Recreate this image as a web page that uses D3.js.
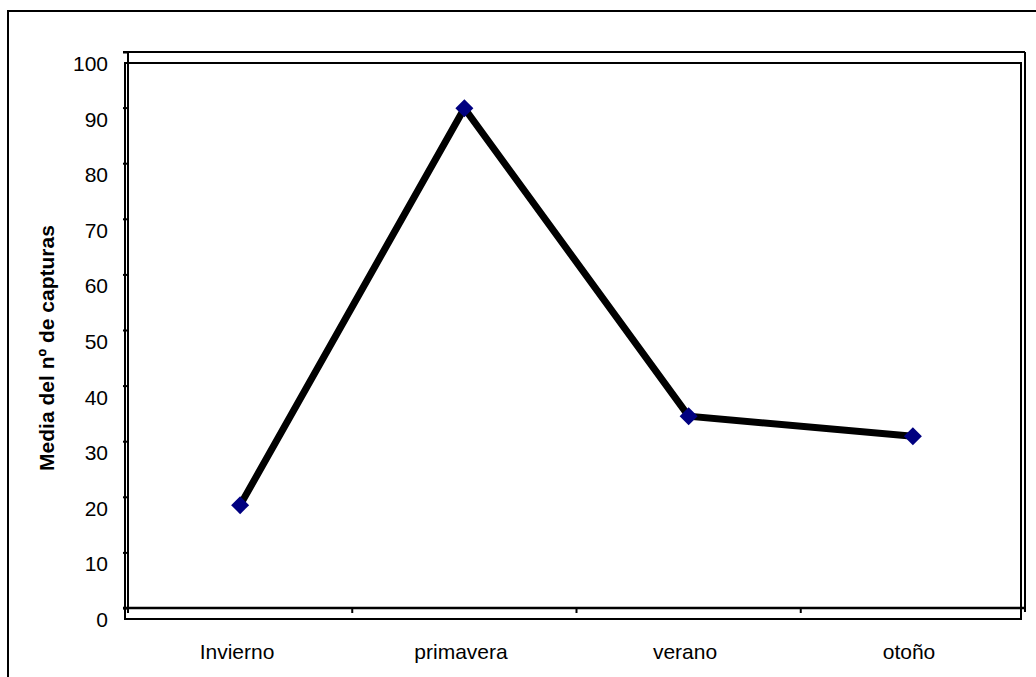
<!DOCTYPE html>
<html>
<head>
<meta charset="utf-8">
<script src="https://cdn.jsdelivr.net/npm/d3@7"></script>
<style>
  html, body { margin: 0; padding: 0; background: #fff; }
  svg { display: block; font-family: Arial, "Liberation Sans", sans-serif; }
</style>
</head>
<body>
<svg id="chart" width="1036" height="677"></svg>
<script>
// Seasonal mean number of captures
const seasons = ["Invierno", "primavera", "verano", "otoño"];
const meanCaptures = [18.5, 89.9, 34.5, 30.9];
const yTicks = [0, 10, 20, 30, 40, 50, 60, 70, 80, 90, 100];
const yTitle = "Media del nº de capturas";

const svg = d3.select("#chart");
const W = 1036, H = 677;

// Axis frame and the slightly shifted plot-area frame
const axisBox = { left: 128, right: 1025, top: 52, bottom: 608 };
const plotBox = { left: 125, right: 1021, top: 63, bottom: 619 };
const labelShift = { x: plotBox.left - axisBox.left, y: plotBox.top - axisBox.top };

const x = d3.scaleBand().domain(seasons).range([axisBox.left, axisBox.right]).padding(0);
const xLabel = d3.scaleBand().domain(seasons).range([plotBox.left, plotBox.right]).padding(0);
const y = d3.scaleLinear().domain([0, 100]).range([axisBox.bottom, axisBox.top]);

// Outer chart border
svg.append("rect")
  .attr("x", 8).attr("y", 11)
  .attr("width", W + 20).attr("height", H + 20)
  .attr("fill", "none").attr("stroke", "#000").attr("stroke-width", 2);

// Plot-area frame
svg.append("rect")
  .attr("x", plotBox.left).attr("y", plotBox.top)
  .attr("width", plotBox.right - plotBox.left)
  .attr("height", plotBox.bottom - plotBox.top)
  .attr("fill", "none").attr("stroke", "#000").attr("stroke-width", 2);

// Value axis (ticks outward to the left)
const yAxis = svg.append("g")
  .attr("transform", `translate(${axisBox.left},0)`)
  .call(d3.axisLeft(y).tickValues(yTicks).tickSize(5).tickSizeOuter(0).tickFormat(d3.format("d")));
yAxis.select(".domain").remove();
yAxis.selectAll(".tick line").attr("stroke", "#000").attr("stroke-width", 2);
yAxis.selectAll(".tick text")
  .attr("x", -20)
  .attr("dy", null)
  .attr("y", labelShift.y)
  .attr("dominant-baseline", "central")
  .attr("fill", "#000")
  .style("font-size", "21px");

// Axis lines
svg.append("line")
  .attr("x1", axisBox.left).attr("x2", axisBox.left)
  .attr("y1", axisBox.top).attr("y2", axisBox.bottom + 5)
  .attr("stroke", "#000").attr("stroke-width", 2);
svg.append("line")
  .attr("x1", axisBox.left - 5).attr("x2", axisBox.right)
  .attr("y1", axisBox.bottom).attr("y2", axisBox.bottom)
  .attr("stroke", "#000").attr("stroke-width", 2.5);
svg.append("line")
  .attr("x1", axisBox.left - 5).attr("x2", axisBox.right)
  .attr("y1", axisBox.top).attr("y2", axisBox.top)
  .attr("stroke", "#000").attr("stroke-width", 2);
svg.append("line")
  .attr("x1", axisBox.right).attr("x2", axisBox.right)
  .attr("y1", axisBox.top).attr("y2", axisBox.bottom + 4)
  .attr("stroke", "#000").attr("stroke-width", 2);

// Category ticks between seasons
svg.append("g").selectAll("line")
  .data(seasons.slice(1))
  .join("line")
  .attr("x1", d => x(d)).attr("x2", d => x(d))
  .attr("y1", axisBox.bottom).attr("y2", axisBox.bottom + 5)
  .attr("stroke", "#000").attr("stroke-width", 2);

// Category labels
svg.append("g").selectAll("text")
  .data(seasons)
  .join("text")
  .attr("x", d => xLabel(d) + xLabel.bandwidth() / 2)
  .attr("y", 659)
  .attr("text-anchor", "middle")
  .style("font-size", "21px")
  .attr("fill", "#000")
  .text(d => d);

// Y axis title
svg.append("text")
  .attr("transform", `translate(54,${(plotBox.top + plotBox.bottom) / 2 + 7}) rotate(-90)`)
  .attr("text-anchor", "middle")
  .style("font-size", "21px")
  .style("font-weight", "bold")
  .attr("fill", "#000")
  .text(yTitle);

// Series line
const pts = seasons.map((s, i) => ({ s, v: meanCaptures[i] }));
svg.append("path")
  .datum(pts)
  .attr("fill", "none")
  .attr("stroke", "#000")
  .attr("stroke-width", 7)
  .attr("stroke-linejoin", "miter")
  .attr("d", d3.line().x(d => x(d.s) + x.bandwidth() / 2).y(d => y(d.v)));

// Diamond markers
svg.append("g").selectAll("path")
  .data(pts)
  .join("path")
  .attr("transform", d => `translate(${x(d.s) + x.bandwidth() / 2},${y(d.v)}) rotate(45)`)
  .attr("d", d3.symbol().type(d3.symbolSquare).size(162))
  .attr("fill", "#000080");
</script>
</body>
</html>
